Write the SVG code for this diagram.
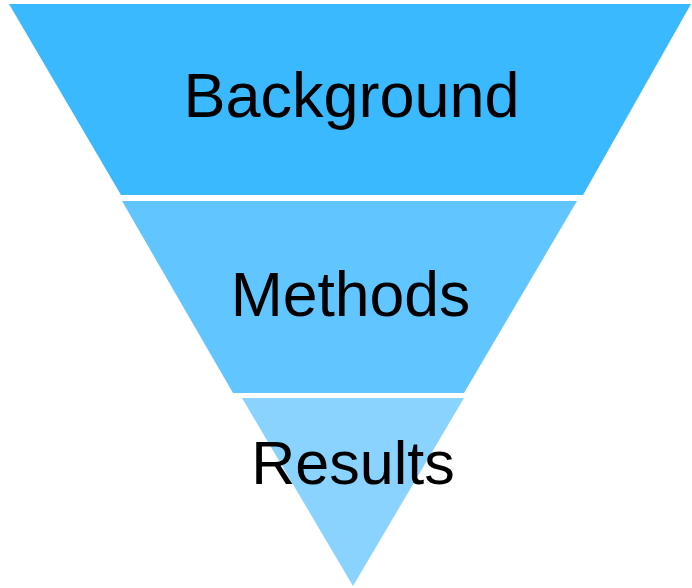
<svg xmlns="http://www.w3.org/2000/svg" width="692" height="588" viewBox="0 0 692 588">
<style>
.lbl{font-family:"Liberation Sans",Arial,sans-serif;font-size:61px;fill:#000;text-anchor:middle}
</style>
<rect width="692" height="588" fill="#fff"/>
<g id="background">
<polygon points="9,4 691,4 583,195 121,195" fill="#3BB9FF"/>
<text class="lbl" x="351.5" y="117" style="font-size:63px">Background</text>
</g>
<g id="methods">
<polygon points="122,201 577,201 464,393 233,393" fill="#61C5FF"/>
<text class="lbl" x="350.5" y="316" style="font-size:62.5px">Methods</text>
</g>
<g id="results">
<polygon points="242,398 464,398 353,586" fill="#8AD3FF"/>
<text class="lbl" x="353" y="484">Results</text>
</g>
<g id="connectors"/>
</svg>
